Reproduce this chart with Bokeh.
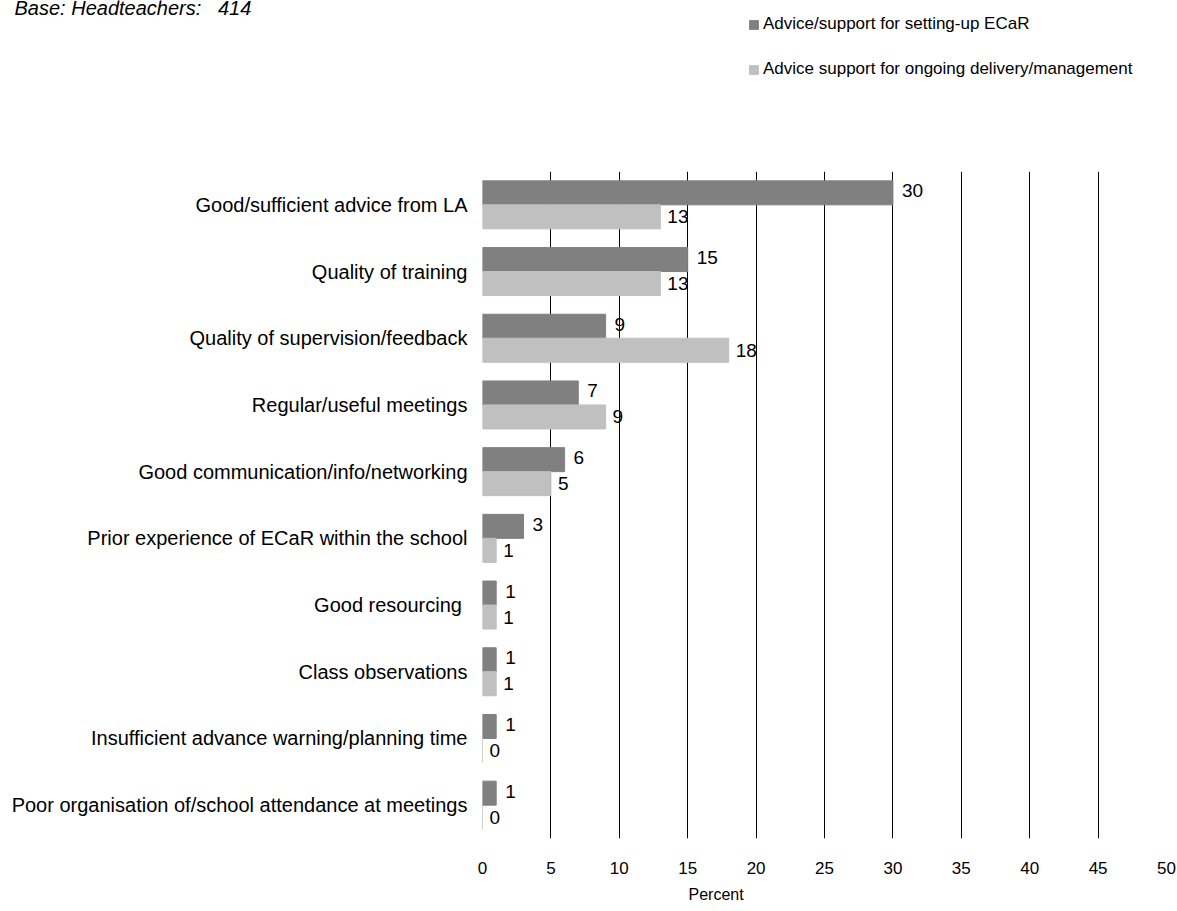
from bokeh.plotting import figure
from bokeh.models import ColumnDataSource, FactorRange, Range1d, Legend, LegendItem, FixedTicker, Label, Title
from bokeh.layouts import column, row
from bokeh.transform import dodge
from bokeh.core.properties import value
from bokeh.embed import file_html
from bokeh.resources import INLINE

categories = [
    "Good/sufficient advice from LA",
    "Quality of training",
    "Quality of supervision/feedback",
    "Regular/useful meetings",
    "Good communication/info/networking",
    "Prior experience of ECaR within the school",
    "Good resourcing ",
    "Class observations",
    "Insufficient advance warning/planning time",
    "Poor organisation of/school attendance at meetings",
]
setup_values = [30, 15, 9, 7, 6, 3, 1, 1, 1, 1]
ongoing_values = [13, 13, 18, 9, 5, 1, 1, 1, 0, 0]
series_names = ["Advice/support for setting-up ECaR", "Advice support for ongoing delivery/management"]
x_ticks = [0, 5, 10, 15, 20, 25, 30, 35, 40, 45, 50]
base_text = "Base: Headteachers:\u00a0\u00a0 414"
x_label = "Percent"

FONT = "Liberation Sans"
DARK = "#808080"
LIGHT = "#C0C0C0"

TOP_H = 100

# ---------- header strip: base note + legend ----------
top = figure(width=1177, height=TOP_H, x_range=Range1d(0, 1177), y_range=Range1d(0, TOP_H),
             x_axis_type=None, y_axis_type=None, output_backend="svg", toolbar_location=None,
             min_border=0)
top.outline_line_color = None
top.grid.grid_line_color = None
# legend-only proxies (zero-width, outside the visible range)
proxy = ColumnDataSource(dict(y=[-10], right=[0]))
d1 = top.hbar(y="y", right="right", left=0, height=1, color=DARK, source=proxy)
d2 = top.hbar(y="y", right="right", left=0, height=1, color=LIGHT, source=proxy)

legend = Legend(
    items=[LegendItem(label=series_names[0], renderers=[d1]),
           LegendItem(label=series_names[1], renderers=[d2])],
    location=(748, 21),
    orientation="vertical",
    glyph_width=11, glyph_height=11, label_height=18, label_standoff=4,
    spacing=25, padding=0, margin=0,
    label_text_font=FONT, label_text_font_size="17px", label_text_color="black",
    border_line_color=None, background_fill_alpha=0,
)
top.add_layout(legend, "center")

base = Label(x=14, y=TOP_H - 7, x_units="screen", y_units="screen", text=base_text,
             text_font=FONT, text_font_size="20px", text_font_style="italic",
             text_color="black", text_baseline="middle")
top.add_layout(base)

# ---------- main chart ----------
src = ColumnDataSource(dict(
    cat=categories,
    setup=setup_values,
    ongoing=ongoing_values,
    setup_lbl=[str(v) for v in setup_values],
    ongoing_lbl=[str(v) for v in ongoing_values],
))

p = figure(
    width=1177, height=911 - TOP_H,
    y_range=FactorRange(factors=list(reversed(categories))),
    x_range=Range1d(0, 50),
    output_backend="svg", toolbar_location=None,
    min_border_left=482, min_border_right=11, min_border_top=171 - TOP_H, min_border_bottom=73,
)
p.outline_line_color = None

p.hbar(y=dodge("cat", 0.18, range=p.y_range), right="setup", left=0, height=0.36,
       color=DARK, source=src)
p.hbar(y=dodge("cat", -0.18, range=p.y_range), right="ongoing", left=0, height=0.36,
       color=LIGHT, source=src)

p.text(x="setup", y=dodge("cat", 0.18, range=p.y_range), text="setup_lbl", source=src,
       x_offset=9, y_offset=-2, text_baseline="middle", text_align="left",
       text_font=value(FONT), text_font_size="19px", text_color="black")
p.text(x="ongoing", y=dodge("cat", -0.18, range=p.y_range), text="ongoing_lbl", source=src,
       x_offset=7, y_offset=0, text_baseline="middle", text_align="left",
       text_font=value(FONT), text_font_size="19px", text_color="black")

p.xaxis.ticker = FixedTicker(ticks=x_ticks)
p.xaxis.axis_line_color = None
p.xaxis.major_tick_line_color = None
p.xaxis.minor_tick_line_color = None
p.xaxis.major_label_standoff = 17
p.xaxis.major_label_text_font = FONT
p.xaxis.major_label_text_font_size = "17px"
p.xaxis.major_label_text_color = "black"

p.yaxis.axis_line_color = None
p.yaxis.major_tick_line_color = None
p.yaxis.minor_tick_line_color = None
p.yaxis.major_label_standoff = 9
p.yaxis.major_label_text_font = FONT
p.yaxis.major_label_text_font_size = "20px"
p.yaxis.major_label_text_color = "black"

p.xgrid.grid_line_color = "black"
p.xgrid.grid_line_width = 1
p.ygrid.grid_line_color = None

xt = Title(text=x_label, align="left", offset=206, standoff=14,
           text_font=FONT, text_font_size="16px", text_font_style="normal", text_color="black")
p.add_layout(xt, "below")

layout = column(row(top), p, spacing=0)
open("out.html", "w").write(file_html(layout, INLINE))
